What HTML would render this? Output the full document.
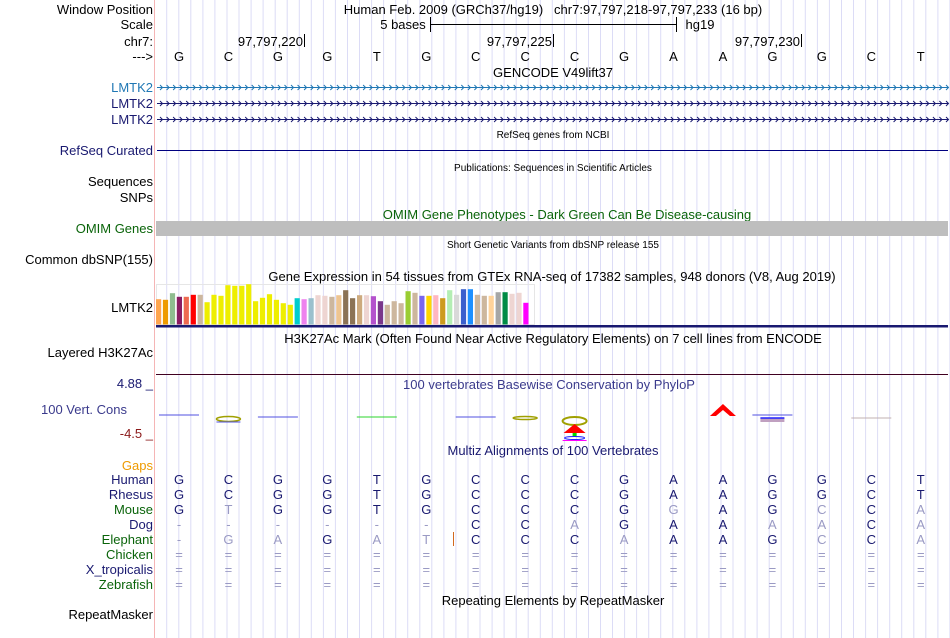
<!DOCTYPE html>
<html><head><meta charset="utf-8"><style>
body{margin:0;width:950px;height:638px;overflow:hidden;background:#fff;font-family:"Liberation Sans",sans-serif;position:relative}
.t{position:absolute;white-space:nowrap;font-size:13px;line-height:15px}
.l{position:absolute;right:797px;text-align:right;white-space:nowrap;font-size:13px;line-height:15px}
.c{position:absolute;white-space:nowrap;transform:translateX(-50%);font-size:13px;line-height:15px}
.s{font-size:10px}
</style></head><body>
<svg id="bg" width="950" height="638" style="position:absolute;left:0;top:0"></svg>
<div id="labels"></div>
<svg id="fg" width="950" height="638" style="position:absolute;left:0;top:0"></svg>
<script>
const bases=["G","C","G","G","T","G","C","C","C","G","A","A","G","G","C","T"];
const species=["Human","Rhesus","Mouse","Dog","Elephant","Chicken","X_tropicalis","Zebrafish"];
const speciesSeq=["GCGGTGCCCGAAGGCT","GCGGTGCCCGAAGGCT","GTGGTGCCCGGAGCCA","------CCAGAAAACA","-GAGATCCCAAAGCCA","================","================","================"];
const gtexTissues=["Adipose Subcutaneous","Adipose Visceral","Adrenal","Artery Aorta","Artery Coronary","Artery Tibial","Bladder","Brain Amygdala","Brain ACC","Brain Caudate","Brain Cerebellar Hemisphere","Brain Cerebellum","Brain Cortex","Brain Frontal Cortex","Brain Hippocampus","Brain Hypothalamus","Brain Nucleus Accumbens","Brain Putamen","Brain Spinal Cord","Brain Substantia Nigra","Breast","EBV Lymphocytes","Fibroblasts","Cervix Ecto","Cervix Endo","Colon Sigmoid","Colon Transverse","Esophagus GEJ","Esophagus Mucosa","Esophagus Muscularis","Fallopian Tube","Heart AA","Heart LV","Kidney Cortex","Kidney Medulla","Liver","Lung","Minor Salivary","Muscle","Nerve Tibial","Ovary","Pancreas","Pituitary","Prostate","Skin No Sun","Skin Sun","Small Intestine","Spleen","Stomach","Testis","Thyroid","Uterus","Vagina","Whole Blood"];
const gtexValues=[76,74,94,83,83,89,89,67,89,86,118,116,116,121,70,80,91,74,64,59,79,76,79,88,86,83,88,103,79,88,88,85,70,59,70,64,100,95,86,86,88,79,103,89,106,106,89,86,86,97,97,92,95,65];
const gtexColors=["#FFA54F","#EE9A00","#8FBC8F","#8B1C62","#EE6A50","#FF0000","#CDB79E","#EEEE00","#EEEE00","#EEEE00","#EEEE00","#EEEE00","#EEEE00","#EEEE00","#EEEE00","#EEEE00","#EEEE00","#EEEE00","#EEEE00","#EEEE00","#00CDCD","#EE82EE","#9AC0CD","#EED5D2","#EED5D2","#CDB79E","#EEC591","#8B7355","#8B7355","#CDAA7D","#EED5D2","#B452CD","#7A378B","#CDB79E","#CDB79E","#CDB79E","#9ACD32","#CDB79E","#7A67EE","#FFD700","#FFB6C1","#CD9B1D","#B4EEB4","#D9D9D9","#3A5FCD","#1E90FF","#CDB79E","#CDB79E","#FFD39B","#A6A6A6","#008B45","#EED5D2","#EED5D2","#FF00FF"];
const NS="http://www.w3.org/2000/svg";
function sv(par,tag,attrs){const e=document.createElementNS(NS,tag);for(const k in attrs)e.setAttribute(k,attrs[k]);par.appendChild(e);return e;}
const bg=document.getElementById('bg'),fg=document.getElementById('fg');
const bx=i=>179+49.45*i;
for(let x=166.7;x<950;x+=12.05){const g=sv(bg,'line',{x1:x.toFixed(1),x2:x.toFixed(1),y1:0,y2:638,stroke:'#dcdcf6','stroke-width':1});

}
const sep=sv(bg,'line',{x1:154.5,x2:154.5,y1:0,y2:638,stroke:'#f5b5b5','stroke-width':1});


const L=document.getElementById('labels');
function lab(txt,y,color,name,cls){const d=document.createElement('div');d.className=cls||'l';d.textContent=txt;d.style.top=y+'px';if(color)d.style.color=color;


L.appendChild(d);return d;}
function ctr(txt,x,y,color,name,small){const d=document.createElement('div');d.className='c'+(small?' s':'');d.textContent=txt;d.style.left=x+'px';d.style.top=y+'px';if(color)d.style.color=color;


L.appendChild(d);return d;}
lab('Window Position',2,'#000','window-position-label');
lab('Scale',17,'#000','scale-label');
lab('chr7:',34,'#000','chr7-label');
lab('--->',49,'#000','strand-label');
ctr('Human Feb. 2009 (GRCh37/hg19)   chr7:97,797,218-97,797,233 (16 bp)',553,2,'#000','position-title').style.whiteSpace='pre';
ctr('5 bases',403,17,'#000','scale-text');
ctr('hg19',700,17,'#000','assembly-text');
sv(fg,'line',{x1:430,x2:677,y1:24.5,y2:24.5,stroke:'#000'});
sv(fg,'line',{x1:430.5,x2:430.5,y1:17,y2:32,stroke:'#000'});
sv(fg,'line',{x1:676.5,x2:676.5,y1:17,y2:32,stroke:'#000'});
[[304,'97,797,220'],[553,'97,797,225'],[801,'97,797,230']].forEach(([x,t])=>{const d=lab(t,34,'#000','coordinate-tick');d.style.right=(950-x+1)+'px';sv(fg,'line',{x1:x+.5,x2:x+.5,y1:34,y2:47,stroke:'#000'});});
bases.forEach((b,i)=>ctr(b,bx(i),49,'#000','base-letter'));
ctr('GENCODE V49lift37',553,65,'#000','gencode-title');
[[87,'#1f77b4'],[103,'#191970'],[119,'#191970']].forEach(([y,c],k)=>{lab('LMTK2',y-7,c,'gencode-transcript-label');
const g=sv(fg,'g',{stroke:c,fill:'none','stroke-width':1});


sv(g,'line',{x1:157,x2:948,y1:y+.5,y2:y+.5});
let d='';for(let x=160;x<946;x+=6.55)d+=`M${x.toFixed(1)} ${y-2}L${(x+2.5).toFixed(1)} ${y+.5}L${x.toFixed(1)} ${y+3}`;sv(g,'path',{d:d});});
ctr('RefSeq genes from NCBI',553,128,'#000','refseq-title',1);
lab('RefSeq Curated',143,'#191970','refseq-curated-label');
sv(fg,'line',{x1:157,x2:948,y1:150.5,y2:150.5,stroke:'#000080'});
ctr('Publications: Sequences in Scientific Articles',553,161,'#000','publications-title',1);
lab('Sequences',174,'#000','sequences-label');
lab('SNPs',190,'#000','snps-label');
ctr('OMIM Gene Phenotypes - Dark Green Can Be Disease-causing',567,207,'#0a640a','omim-title');
lab('OMIM Genes',221,'#0a640a','omim-genes-label');
const om=sv(fg,'rect',{x:156,y:221,width:792,height:15,fill:'#bebebe'});


ctr('Short Genetic Variants from dbSNP release 155',553,238,'#000','dbsnp-title',1);
lab('Common dbSNP(155)',252,'#000','dbsnp-label');
ctr('Gene Expression in 54 tissues from GTEx RNA-seq of 17382 samples, 948 donors (V8, Aug 2019)',552,269,'#000','gtex-title');
lab('LMTK2',300,'#000','gtex-gene-label');
sv(fg,'rect',{x:156.5,y:284.5,width:378,height:40,fill:'none',stroke:'#e6e6e6'});
const base=324.5;
gtexValues.forEach((v,i)=>{const h=v/3;const r=sv(fg,'rect',{x:(156+6.93*i).toFixed(1),y:(base-h).toFixed(1),width:5.2,height:h.toFixed(1),fill:gtexColors[i]});

});
sv(fg,'rect',{x:156,y:325,width:792,height:2.5,fill:'#191970'});
ctr('H3K27Ac Mark (Often Found Near Active Regulatory Elements) on 7 cell lines from ENCODE',553,331,'#000','h3k27ac-title');
lab('Layered H3K27Ac',345,'#000','h3k27ac-label');
sv(fg,'line',{x1:156,x2:948,y1:374.5,y2:374.5,stroke:'#400020'});
lab('4.88 _',376,'#191970','phylop-max-label');
ctr('100 vertebrates Basewise Conservation by PhyloP',549,377,'#3a3a8c','phylop-title');
lab('100 Vert. Cons',402,'#3a3a8c','phylop-label').style.right='823px';
lab('-4.5 _',426,'#8b1a1a','phylop-min-label');
[[0,415,'#5050e0'],[2,417,'#5050e0'],[4,417,'#2bd42b'],[6,417,'#5050e0'],[12,415,'#5050e0'],[14,418,'#c0b0b0']].forEach(([i,y,c])=>sv(fg,'line',{x1:bx(i)-20,x2:bx(i)+20,y1:y,y2:y,stroke:c,'stroke-width':1}));
sv(fg,'ellipse',{cx:bx(1),cy:419,rx:12,ry:2.5,fill:'none',stroke:'#a0a000','stroke-width':1.5});
sv(fg,'line',{x1:bx(1)-12,x2:bx(1)+12,y1:422,y2:422,stroke:'#5050e0'});
sv(fg,'ellipse',{cx:bx(7),cy:418,rx:12,ry:1.5,fill:'none',stroke:'#a0a000','stroke-width':1.5});
sv(fg,'ellipse',{cx:bx(8),cy:421,rx:12,ry:4,fill:'none',stroke:'#a0a000','stroke-width':2});
sv(fg,'path',{d:`M${bx(8)-11} 433L${bx(8)} 424L${bx(8)+11} 433Z`,fill:'#ff0000'});
sv(fg,'rect',{x:bx(8)-2,y:433,width:4,height:4,fill:'#00dd00'});
sv(fg,'ellipse',{cx:bx(8),cy:438,rx:10,ry:1.5,fill:'none',stroke:'#2020ff'});
sv(fg,'line',{x1:bx(8)-12,x2:bx(8)+12,y1:440.5,y2:440.5,stroke:'#ff00ff'});
sv(fg,'path',{d:`M${bx(11)-13} 416L${bx(11)} 404L${bx(11)+13} 416L${bx(11)+7} 416L${bx(11)} 410L${bx(11)-7} 416Z`,fill:'#ff0000'});
sv(fg,'rect',{x:bx(12)-12,y:418,width:24,height:4,fill:'#c0a0c0'});
sv(fg,'line',{x1:bx(12)-12,x2:bx(12)+12,y1:418,y2:418,stroke:'#2020ff','stroke-width':1.5});
ctr('Multiz Alignments of 100 Vertebrates',553,443,'#191970','multiz-title');
lab('Gaps',458,'#ee9a00','gaps-label');
const spCol=['#191970','#191970','#0a640a','#191970','#0a640a','#0a640a','#191970','#0a640a'];
species.forEach((sp,k)=>{const y=472+15*k;lab(sp,y,spCol[k],'species-label');
for(let i=0;i<16;i++){const ch=speciesSeq[k][i];const dim=k>0&&ch!==bases[i];
ctr(ch,bx(i),y,dim?'#9a9ac4':'#191970','alignment-base');}});
sv(fg,'line',{x1:453.5,x2:453.5,y1:532,y2:546,stroke:'#d2691e'});
ctr('Repeating Elements by RepeatMasker',553,593,'#000','repeatmasker-title');
lab('RepeatMasker',607,'#000','repeatmasker-label');
</script>
</body></html>
